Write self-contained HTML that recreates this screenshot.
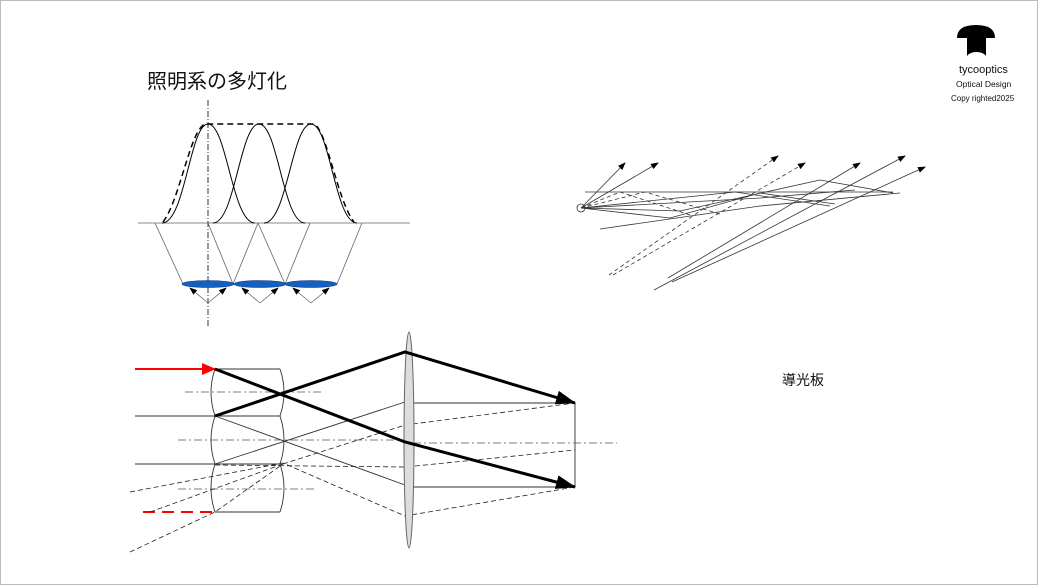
<!DOCTYPE html>
<html><head><meta charset="utf-8"><style>
html,body{margin:0;padding:0;background:#fff}
.wrap{position:relative;width:1036px;height:583px;border:1px solid #bbb;overflow:hidden;font-family:"Liberation Sans","Noto Sans CJK JP",sans-serif}
.t{position:absolute;white-space:nowrap;color:#111}
</style></head><body><div class="wrap">
<div class="t" style="left:146px;top:64px;font-size:20px">照明系の多灯化</div>
<div class="t" style="left:781px;top:369px;font-size:14px">導光板</div>
<div class="t" style="left:958px;top:63px;font-size:11px">tycooptics</div>
<div class="t" style="left:955px;top:78px;font-size:8.5px">Optical Design</div>
<div class="t" style="left:950px;top:93px;font-size:8px">Copy righted2025</div>
<svg width="1038" height="585" style="position:absolute;left:-1px;top:-1px" fill="none" stroke="#000">
<defs><marker id="a" markerWidth="8" markerHeight="6" refX="7" refY="3" orient="auto" markerUnits="userSpaceOnUse"><path d="M0,0L8,3L0,6z" fill="#000" stroke="none"/></marker>
<marker id="b" markerWidth="20" markerHeight="14" refX="19" refY="7" orient="auto" markerUnits="userSpaceOnUse"><path d="M0,0L20,7L0,14z" fill="#000" stroke="none"/></marker>
<marker id="r" markerWidth="14" markerHeight="12" refX="13" refY="6" orient="auto" markerUnits="userSpaceOnUse"><path d="M0,0L14,6L0,12z" fill="red" stroke="none"/></marker></defs>
<!-- logo -->
<path d="M957,38 Q957,25 976,25 Q995,25 995,38 Z" fill="#000" stroke="none"/>
<path d="M967,38h19v18q-3,-4 -9.5,-4q-6.5,0 -9.5,4z" fill="#000" stroke="none"/>
<!-- top-left -->
<line x1="138" y1="223" x2="410" y2="223" stroke="#888"/>
<line x1="208" y1="100" x2="208" y2="326" stroke-dasharray="6,2,1,2" stroke-width="0.8"/>
<path d="M163,222 C180,200 190,130 205,124 L314,124 C327,130 337,200 354,222" stroke-dasharray="6,4" stroke-width="1.5"/>
<g stroke-width="1">
<path d="M213,223 C235,223 240,124 259,124 C278,124 283,223 305,223"/>
<path d="M162,223 C185,223 190,124 208,124 C227,124 232,223 255,223"/>
<path d="M264,223 C287,223 292,124 311,124 C330,124 335,223 357,223"/>
</g>
<g stroke="#666" stroke-width="0.8">
<path d="M155,223L183,284M208,223L233,284M258,223L233,284M258,223L285,284M310,223L285,284M362,223L337,284"/>
<line x1="208" y1="303" x2="190" y2="288" marker-end="url(#a)"/>
<line x1="208" y1="303" x2="226" y2="288" marker-end="url(#a)"/>
<line x1="260" y1="303" x2="242" y2="288" marker-end="url(#a)"/>
<line x1="260" y1="303" x2="278" y2="288" marker-end="url(#a)"/>
<line x1="311" y1="303" x2="293" y2="288" marker-end="url(#a)"/>
<line x1="311" y1="303" x2="329" y2="288" marker-end="url(#a)"/>
</g>
<g fill="#1460c0" stroke="#103a80" stroke-width="0.6"><ellipse cx="208" cy="284" rx="26" ry="3.5"/><ellipse cx="260" cy="284" rx="26" ry="3.5"/><ellipse cx="311" cy="284" rx="26" ry="3.5"/></g>
<!-- top-right -->
<g stroke="#333" stroke-width="0.8">
<circle cx="581" cy="208" r="4"/>
<line x1="585" y1="192" x2="893" y2="192"/>
<line x1="581" y1="208" x2="625" y2="163" marker-end="url(#a)"/>
<line x1="581" y1="208" x2="658" y2="163" marker-end="url(#a)"/>
<line x1="668" y1="278" x2="860" y2="163" marker-end="url(#a)"/>
<line x1="654" y1="290" x2="905" y2="156" marker-end="url(#a)"/>
<line x1="672" y1="282" x2="925" y2="167" marker-end="url(#a)"/>
<path d="M581,208L680,211L820,180L893,193M581,208L670,218L760,193L835,204M600,229L760,206L900,193M581,208L760,198L855,190M581,208L735,192L830,206"/>
<g stroke-dasharray="4,3">
<line x1="609" y1="275" x2="778" y2="156" marker-end="url(#a)"/>
<line x1="613" y1="275" x2="805" y2="163" marker-end="url(#a)"/>
<path d="M581,208L620,192L690,215M581,208L645,192L720,214"/></g>
</g>
<!-- bottom -->
<line x1="135" y1="369" x2="215" y2="369" stroke="red" stroke-width="2" marker-end="url(#r)"/>
<line x1="143" y1="512" x2="215" y2="512" stroke="red" stroke-width="2" stroke-dasharray="12,7"/>
<g stroke="#333" stroke-width="0.9">
<path d="M135,416H215M135,464H215M215,369H280M215,416H280M215,464H280M215,512H280"/>
<path d="M215,369Q207,392 215,416Q207,440 215,464Q207,488 215,512"/>
<path d="M280,369Q288,392 280,416Q288,440 280,464Q288,488 280,512"/>
<path d="M413,403H575M413,487H575M575,403V487"/>
<path d="M215,416L405,485M215,464L405,402"/>
</g>
<g stroke="#555" stroke-width="0.8" stroke-dasharray="8,3,2,3"><path d="M185,392H323M178,440H410M178,489H316M413,443H617"/></g>
<g stroke="#222" stroke-width="0.8" stroke-dasharray="5,3"><path d="M130,492L283,463L405,516L575,487M130,552L215,512L283,464M150,512L283,464M215,465L405,467L575,450M283,464L405,425L575,403"/></g>
<ellipse cx="409" cy="440" rx="5" ry="108" fill="#ddd" stroke="#666"/>
<g stroke-width="3"><path d="M215,369L405,442L575,487" marker-end="url(#b)"/><path d="M215,416L405,352L575,403" marker-end="url(#b)"/></g>
</svg></div></body></html>
